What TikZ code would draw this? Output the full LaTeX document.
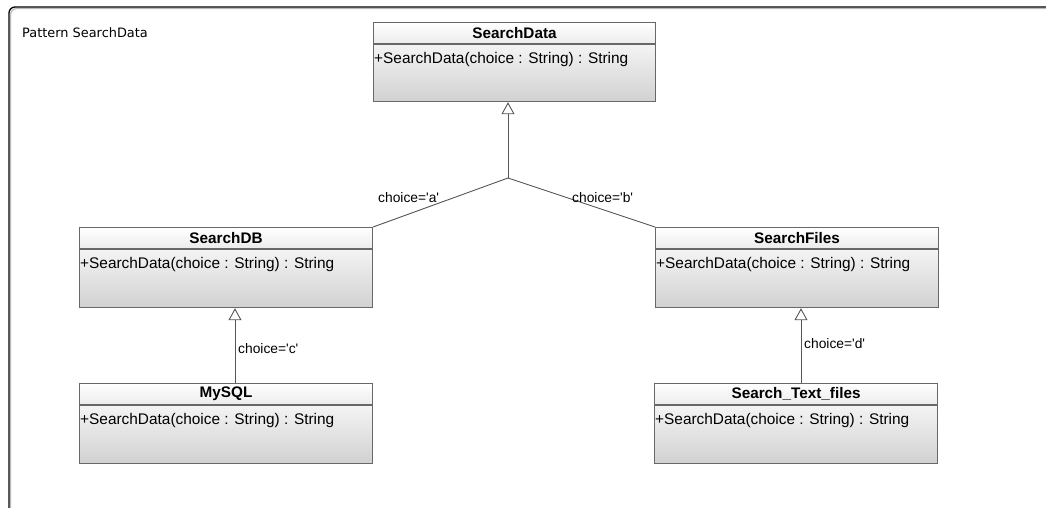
\documentclass[tikz,border=0pt]{standalone}
\usepackage{fontspec}
\setmainfont{Liberation Sans}
\newfontfamily\framefont{DejaVu Sans}
\usetikzlibrary{arrows.meta,calc}
\newcommand\squote{\textquotesingle}
\definecolor{edge}{HTML}{555555}
\definecolor{boxline}{HTML}{686868}
\tikzset{
  classhead/.style={draw=boxline, line width=1.1pt, top color=white, bottom color=gray!15,
    minimum width=#1, minimum height=21pt, anchor=north west, inner sep=0pt,
    font=\fontsize{15.3}{16}\selectfont\bfseries},
  classbody/.style={draw=boxline, line width=1.1pt, top color=gray!9, bottom color=gray!36,
    minimum width=#1, minimum height=57pt, anchor=north west, inner sep=0pt},
  optext/.style={anchor=base west, inner sep=0pt, font=\fontsize{15.4}{16}\selectfont},
  guard/.style={anchor=base west, inner sep=0pt, font=\fontsize{13.8}{15}\selectfont},
  inherit/.style={draw=edge, line width=0.9pt, -{Triangle[open, length=12pt, width=13pt]}},
  link/.style={draw=edge, line width=0.9pt},
}
\begin{document}
\begin{tikzpicture}[x=1pt, y=-1pt]
  \useasboundingbox (0,0) rectangle (1046,508);
  \fill[white] (0,0) rectangle (1046,508);

  % package frame
  \draw[gray!55, line width=1.2pt, rounded corners=6pt] (10.6,508) -- (10.6,8.6) -- (1046,8.6);
  \draw[black, line width=1.3pt, rounded corners=6pt] (9,508) -- (9,7) -- (1046,7);
  \node[anchor=base west, inner sep=0pt, font=\framefont\fontsize{12.9}{14}\selectfont] (title) at (22,38) {Pattern SearchData};

  % SearchData
  \node[classhead=282pt] (sdH) at (373,22) {SearchData};
  \node[classbody=282pt] (sd) at (sdH.south west) {};
  \node[optext] (sdOp) at ($(sd.north west)+(1,19)$) {+SearchData(choice : String) : String};

  % SearchDB
  \node[classhead=293pt] (dbH) at (79,227) {SearchDB};
  \node[classbody=293pt, minimum height=58pt] (db) at (dbH.south west) {};
  \node[optext] (dbOp) at ($(db.north west)+(1,19)$) {+SearchData(choice : String) : String};

  % SearchFiles
  \node[classhead=283pt] (fiH) at (655,227) {SearchFiles};
  \node[classbody=283pt, minimum height=58pt] (fi) at (fiH.south west) {};
  \node[optext] (fiOp) at ($(fi.north west)+(1,19)$) {+SearchData(choice : String) : String};

  % MySQL
  \node[classhead=293pt] (myH) at (79,383) {MySQL};
  \node[classbody=293pt, minimum height=58pt] (my) at (myH.south west) {};
  \node[optext] (myOp) at ($(my.north west)+(1,19)$) {+SearchData(choice : String) : String};

  % Search_Text_files
  \node[classhead=283pt] (txH) at (654,383) {Search\_Text\_files};
  \node[classbody=283pt, minimum height=58pt] (tx) at (txH.south west) {};
  \node[optext] (txOp) at ($(tx.north west)+(1,19)$) {+SearchData(choice : String) : String};

  % generalisation tree
  \coordinate (j) at (508,178);
  \draw[inherit] (j) -- (j |- sd.south);
  \draw[link] (dbH.north east) -- (j) -- (fiH.north west);
  \node[guard] (ga) at (378,202) {choice=\squote a\squote};
  \node[guard] (gb) at (572,202) {choice=\squote b\squote};

  \coordinate (c) at (235,0);
  \draw[inherit] (c |- myH.north) -- (c |- db.south);
  \node[guard] (gc) at (238,353) {choice=\squote c\squote};

  \coordinate (d) at (801,0);
  \draw[inherit] (d |- txH.north) -- (d |- fi.south);
  \node[guard] (gd) at (804,348) {choice=\squote d\squote};
\end{tikzpicture}
\end{document}
